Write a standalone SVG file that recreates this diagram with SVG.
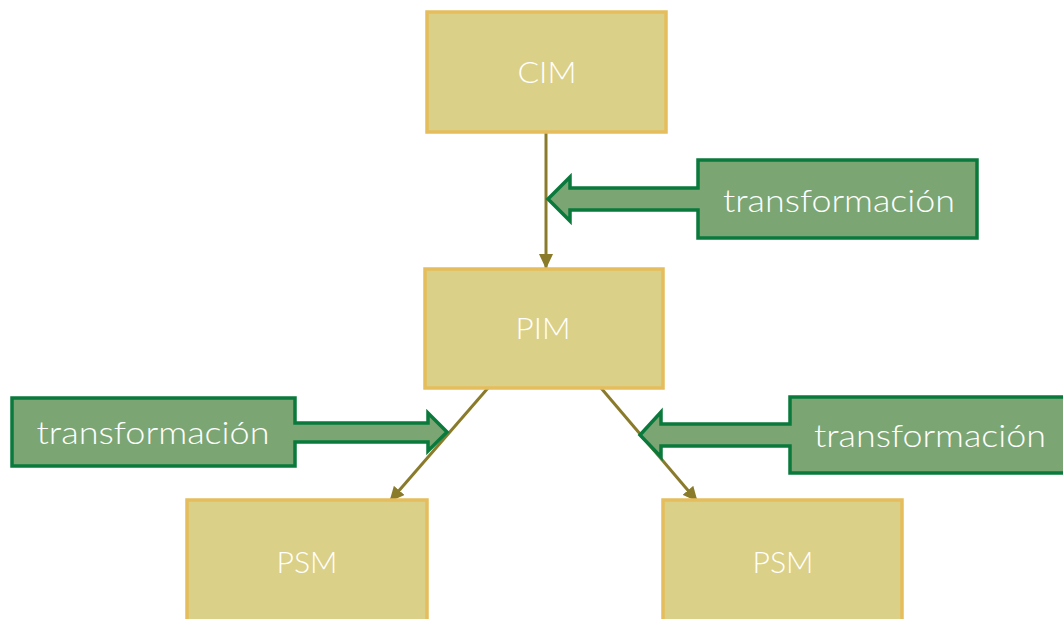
<svg xmlns="http://www.w3.org/2000/svg" width="1063" height="619" viewBox="0 0 1063 619">
  <defs>
    <style>
      .model rect { fill: #DBD087; stroke: #E6BD5C; stroke-width: 3.5; }
      .model text { fill: #FFFFFF; font-family: "Lato", "Open Sans", sans-serif; font-weight: 300; font-size: 29px; text-anchor: middle; }
      .callout path { fill: #7BA674; stroke: #0A7A3C; stroke-width: 3.5; stroke-linejoin: miter; }
      .callout text { fill: #FFFFFF; font-family: "Lato", "Open Sans", sans-serif; font-weight: 300; font-size: 32px; text-anchor: middle; }
      .link { stroke: #8A7B2B; stroke-width: 3; fill: none; }
    </style>
    <marker id="head" viewBox="0 0 15 14" refX="14" refY="7" markerWidth="15" markerHeight="14" markerUnits="userSpaceOnUse" orient="auto">
      <path d="M0,0 L15,7 L0,14 Z" fill="#8A7B2B"/>
    </marker>
  </defs>

  <rect width="1063" height="619" fill="#FFFFFF"/>

  <!-- connectors between models -->
  <g id="connectors">
    <line class="link" x1="546" y1="133" x2="546" y2="268" marker-end="url(#head)"/>
    <line class="link" x1="488" y1="388" x2="390" y2="501" marker-end="url(#head)"/>
    <line class="link" x1="601" y1="388" x2="697" y2="501" marker-end="url(#head)"/>
  </g>

  <!-- models -->
  <g id="cim" class="model">
    <rect x="427" y="12" width="239" height="120"/>
    <text x="547" y="83" textLength="59" lengthAdjust="spacingAndGlyphs">CIM</text>
  </g>
  <g id="pim" class="model">
    <rect x="425" y="269" width="238" height="119"/>
    <text x="543" y="339" textLength="55" lengthAdjust="spacingAndGlyphs">PIM</text>
  </g>
  <g id="psm-left" class="model">
    <rect x="187" y="500" width="240" height="125"/>
    <text x="307" y="573" textLength="61" lengthAdjust="spacingAndGlyphs">PSM</text>
  </g>
  <g id="psm-right" class="model">
    <rect x="663" y="500" width="239" height="125"/>
    <text x="783" y="573" textLength="61" lengthAdjust="spacingAndGlyphs">PSM</text>
  </g>

  <!-- transformation callouts -->
  <g id="transform-top" class="callout">
    <path d="M977,160 L698,160 L698,188 L570,188 L570,177 L548,199 L570,221 L570,210 L698,210 L698,238 L977,238 Z"/>
    <text x="839" y="212" textLength="232" lengthAdjust="spacingAndGlyphs">transformación</text>
  </g>
  <g id="transform-left" class="callout">
    <path d="M12,398 L295,398 L295,423 L428,423 L428,413 L447,432 L428,451 L428,442 L295,442 L295,466 L12,466 Z"/>
    <text x="153" y="444" textLength="233" lengthAdjust="spacingAndGlyphs">transformación</text>
  </g>
  <g id="transform-right" class="callout">
    <path d="M1072,397 L790,397 L790,424 L661,424 L661,412 L640,435 L661,457 L661,446 L790,446 L790,473 L1072,473 Z"/>
    <text x="930" y="447" textLength="232" lengthAdjust="spacingAndGlyphs">transformación</text>
  </g>
</svg>
